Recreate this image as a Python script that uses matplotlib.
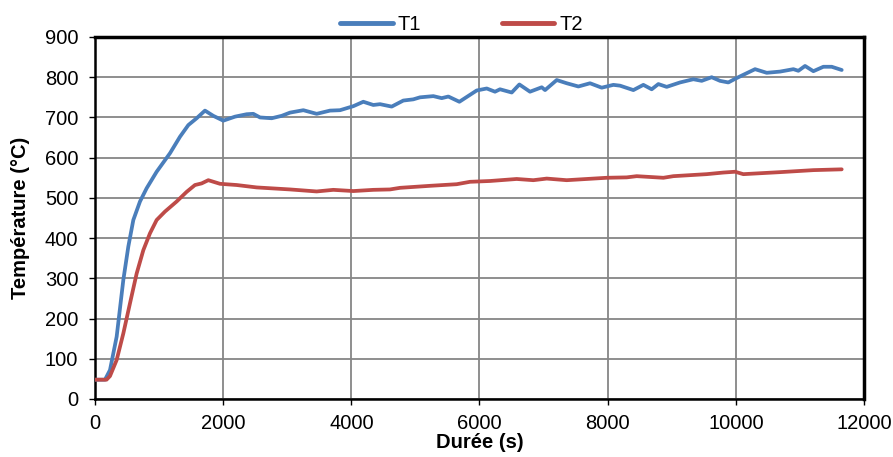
import matplotlib
matplotlib.use("Agg")
import matplotlib.pyplot as plt

plt.rcParams['font.family'] = ['Liberation Sans', 'DejaVu Sans']

t1_time = [0, 156, 234, 338, 442, 520, 598, 702, 806, 962, 1170, 1326, 1456, 1586, 1716, 1846,
           2002, 2185, 2367, 2470, 2575, 2757, 2913, 3043, 3251, 3459, 3667, 3823, 4031, 4187,
           4343, 4448, 4630, 4811, 4967, 5072, 5280, 5410, 5514, 5686, 5956, 6113, 6242, 6320,
           6503, 6622, 6788, 6971, 7023, 7205, 7361, 7543, 7725, 7907, 8089, 8193, 8401, 8557,
           8687, 8791, 8921, 9129, 9337, 9467, 9623, 9753, 9883, 9988, 10117, 10300, 10482,
           10690, 10898, 10976, 11080, 11210, 11366, 11496, 11652]
t1_temp = [48, 48, 72, 155, 296, 379, 445, 491, 524, 565, 611, 652, 681, 698, 717, 704,
           692, 702, 708, 709, 700, 698, 704, 712, 718, 709, 717, 718, 728, 739,
           731, 733, 727, 742, 745, 750, 753, 748, 752, 739, 767, 772, 764, 770,
           762, 782, 764, 775, 768, 793, 785, 777, 785, 774, 781, 779, 768, 781,
           770, 783, 776, 787, 795, 791, 800, 791, 787, 796, 806, 820, 811,
           814, 820, 816, 828, 815, 826, 826, 818]

t2_time = [0, 180, 234, 338, 442, 546, 650, 754, 858, 962, 1092, 1274, 1430, 1560, 1664, 1768,
           1951, 2211, 2523, 3043, 3459, 3719, 4031, 4343, 4603, 4760, 5228, 5644, 5852, 6164,
           6580, 6840, 7049, 7361, 7985, 8297, 8453, 8869, 9025, 9545, 9805, 9988, 10117,
           10690, 11210, 11652]
t2_temp = [48, 48, 57, 97, 163, 238, 312, 370, 412, 445, 466, 491, 515, 532, 536, 544,
           535, 532, 526, 521, 516, 520, 517, 520, 521, 525, 530, 534, 540, 542,
           547, 544, 548, 544, 550, 551, 554, 550, 554, 559, 563, 565, 559,
           564, 569, 571]

x_ticks = [0, 2000, 4000, 6000, 8000, 10000, 12000]
y_ticks = [0, 100, 200, 300, 400, 500, 600, 700, 800, 900]

fig = plt.figure(figsize=(8.93, 4.57), dpi=100)
ax = fig.add_axes([95/893, 1-399/457, (864-95)/893, (399-37)/457])

ax.plot(t1_time, t1_temp, color='#4A7EBB', lw=2.7, label='T1', solid_capstyle='round',
        solid_joinstyle='round', zorder=3)
ax.plot(t2_time, t2_temp, color='#BE4B48', lw=2.7, label='T2', solid_capstyle='round',
        solid_joinstyle='round', zorder=3)

ax.set_xlim(0, 12000)
ax.set_ylim(0, 900)
ax.set_xticks(x_ticks)
ax.set_yticks(y_ticks)
ax.grid(True, color='#868686', lw=1.3)
ax.set_axisbelow(True)
ax.tick_params(axis='both', direction='out', length=4, width=1, labelsize=14.5,
               colors='black')
ax.tick_params(axis='x', pad=7)
ax.tick_params(axis='y', pad=8)
for side in ['top', 'right']:
    ax.spines[side].set_linewidth(2.5)
    ax.spines[side].set_color('black')
for side in ['left', 'bottom']:
    ax.spines[side].set_linewidth(1.8)
    ax.spines[side].set_color('black')

ax.set_xlabel('Durée (s)', fontsize=14.5, fontweight='bold')
ax.set_ylabel('Température (°C)', fontsize=14.5, fontweight='bold')
ax.xaxis.set_label_coords(0.5, -0.1215)
ax.yaxis.set_label_coords(-0.0975, 0.5)
ax.xaxis.label.set_va('center')
ax.yaxis.label.set_va('center')

leg = ax.legend(loc='lower center', bbox_to_anchor=(0.4766, 0.998), ncol=2, frameon=False,
                fontsize=14.5, handlelength=2.6, columnspacing=4.0, borderaxespad=0.0,
                handletextpad=0.25, borderpad=0.2)
for line in leg.get_lines():
    line.set_linewidth(3.5)

fig.savefig('out.png', dpi=100)
